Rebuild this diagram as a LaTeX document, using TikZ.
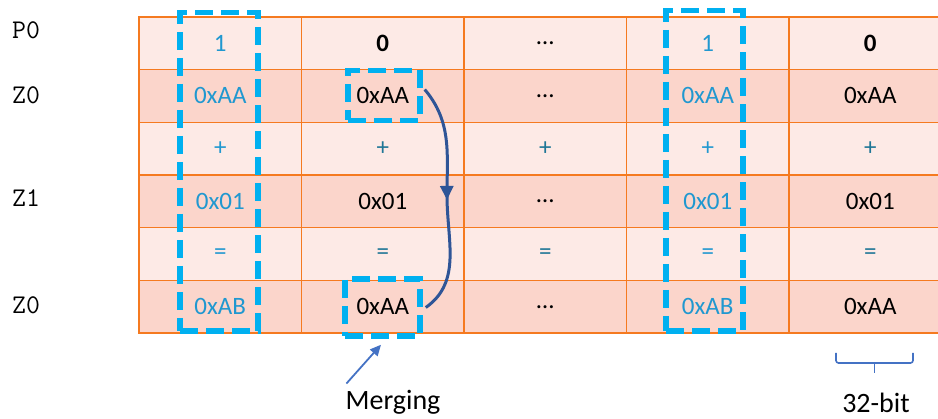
\documentclass[tikz,border=0pt]{standalone}
\usepackage{fontspec}
\setmainfont{Carlito}
\usepackage{tikz}
\usetikzlibrary{matrix,positioning,arrows.meta,decorations.markings}
\usepackage{color}
\definecolor{gridorange}{RGB}{245,122,32}
\definecolor{rowlight}{RGB}{253,234,230}
\definecolor{rowdark}{RGB}{251,213,203}
\definecolor{selblue}{RGB}{0,176,240}
\definecolor{txtblue}{RGB}{32,152,208}
\definecolor{optxt}{RGB}{30,118,150}
\definecolor{arrdark}{RGB}{47,85,151}
\definecolor{arrlight}{RGB}{68,114,196}

\begin{document}
\begin{tikzpicture}[x=1pt,y=-1pt,
    cmat/.style={matrix of nodes,nodes in empty cells,
    nodes={draw=gridorange,line width=1.5pt,minimum width=162.5pt,minimum height=52.7pt,
      inner sep=0pt,anchor=center,font=\fontsize{25}{30}\selectfont},
    column sep=-1.5pt,row sep=-1.5pt},
    hl/.style={text=txtblue},
    op/.style={text=optxt},
    reg/.style={font=\ttfamily\fontsize{27}{30}\selectfont,anchor=west,inner sep=0pt},
    selbox/.style={draw=selblue,line width=5.5pt,dash pattern=on 18pt off 8pt,inner sep=0pt},
    captxt/.style={font=\fontsize{28}{32}\selectfont,anchor=base,inner sep=0pt}]
 \useasboundingbox (0,0) rectangle (938,419);
 \matrix[cmat,row 1/.style={nodes={fill=rowlight}},row 2/.style={nodes={fill=rowdark}},
   row 3/.style={nodes={fill=rowlight}},row 4/.style={nodes={fill=rowdark}},
   row 5/.style={nodes={fill=rowlight}},row 6/.style={nodes={fill=rowdark}}] (tbl) at (545.25,175)
  {|[hl]| 1 & \textbf{0} & … & |[hl]| 1 & \textbf{0}\\
   |[hl]| 0xAA & 0xAA & … & |[hl]| 0xAA & 0xAA\\
   |[hl]| + & |[op]| + & |[op]| + & |[hl]| + & |[op]| +\\
   |[hl]| 0x01 & 0x01 & … & |[hl]| 0x01 & 0x01\\
   |[hl]| = & |[op]| = & |[op]| = & |[hl]| = & |[op]| =\\
   |[hl]| 0xAB & 0xAA & … & |[hl]| 0xAB & 0xAA\\};
 % register names
 \node[reg] (p0) at (12,30) {P0};
 \node[reg] (z0a) at (12,95) {Z0};
 \node[reg] (z1) at (12,198) {Z1};
 \node[reg] (z0b) at (12,305) {Z0};
 % selected lanes
 \node[selbox,minimum width=78pt,minimum height=318.5pt] (lane1) at (219,171.75) {};
 \node[selbox,minimum width=77pt,minimum height=320.5pt] (lane4) at (704.5,170.75) {};
 \node[selbox,minimum width=72pt,minimum height=50pt] (srcbox) at (384,95.5) {};
 \node[selbox,minimum width=75pt,minimum height=57pt] (dstbox) at (382.5,307.5) {};
 % merge arrow
 \coordinate (bend) at (447,196);
 \draw[arrdark,line width=3pt,postaction={decorate},
   decoration={markings,mark=at position 0.5 with {\arrow{Triangle[length=14pt,width=13pt]}}}]
  ([xshift=2pt,yshift=6pt]srcbox.east) to[out=-50,in=90] (bend) to[out=-90,in=35] ([xshift=3pt]dstbox.east);
 \node[captxt] (mrg) at (393,410) {Merging};
 \draw[arrlight,line width=1.8pt,-{Triangle[length=11pt,width=10pt]}]
  ([xshift=1pt,yshift=7pt]mrg.north west) -- ([xshift=-1.5pt,yshift=-6pt]dstbox.south);
 % lane width
 \coordinate (bl) at (836,353);
 \coordinate (br) at (913,353);
 \draw[arrlight,line width=1.6pt,rounded corners=2.5pt] (bl) -- ++(0,10) -- ++(77,0) -- (br);
 \draw[arrlight,line width=1.6pt] (874.5,363) -- ++(0,10);
 \node[captxt] (bits) at (876,413) {32-bit};
\end{tikzpicture}
\end{document}
